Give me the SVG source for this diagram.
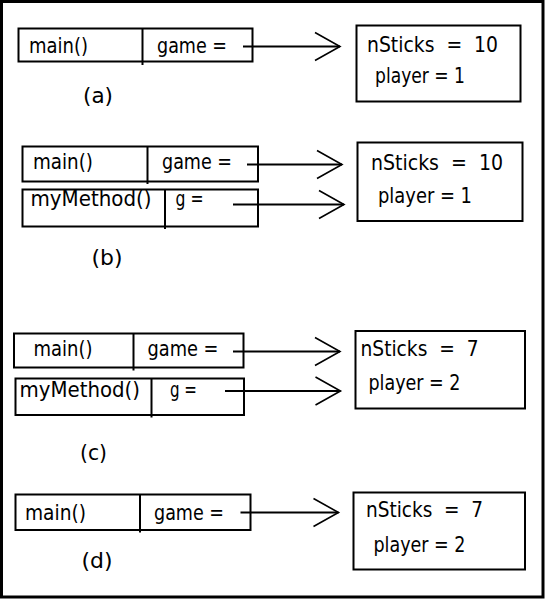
<svg xmlns="http://www.w3.org/2000/svg" width="546" height="600" viewBox="0 0 546 600">
<defs>
<style>
.box{fill:#fff;stroke:#000;stroke-width:2}
.div{stroke:#000;stroke-width:2}
.t{font-family:"DejaVu Sans Condensed","DejaVu Sans","Liberation Sans",sans-serif;font-size:22px;fill:#000;white-space:pre}
.c{stroke:#000;stroke-width:2;fill:none}
</style>
<marker id="chev" markerUnits="userSpaceOnUse" markerWidth="30" markerHeight="32" viewBox="0 0 30 32" refX="27" refY="16" orient="auto">
<path d="M2,2 L27,16 L2,30" fill="none" stroke="#000" stroke-width="1.6"/>
</marker>
</defs>
<rect x="0" y="0" width="546" height="600" fill="#fff"/>
<rect x="1.5" y="1.5" width="541.5" height="595.5" fill="none" stroke="#000" stroke-width="3"/>

<!-- (a) -->
<g id="a-main">
<rect class="box" x="18.5" y="28.5" width="234" height="33"/>
<line class="div" x1="142.5" y1="28.5" x2="142.5" y2="65"/>
<text class="t" x="29" y="53" textLength="59" lengthAdjust="spacingAndGlyphs">main()</text>
<text class="t" x="157" y="53" textLength="70" lengthAdjust="spacingAndGlyphs">game =</text>
</g>
<g id="a-obj">
<rect class="box" x="356.5" y="25.5" width="164" height="76"/>
<text class="t" xml:space="preserve" x="367" y="52" textLength="131" lengthAdjust="spacingAndGlyphs">nSticks  =  10</text>
<text class="t" x="375" y="83" textLength="90" lengthAdjust="spacingAndGlyphs">player = 1</text>
</g>
<text id="label-a" class="t" x="83" y="103" textLength="30" lengthAdjust="spacingAndGlyphs">(a)</text>

<!-- (b) -->
<g id="b-main">
<rect class="box" x="22.5" y="146.5" width="235.5" height="35"/>
<line class="div" x1="147.5" y1="146.5" x2="147.5" y2="184"/>
<text class="t" x="33" y="169" textLength="60" lengthAdjust="spacingAndGlyphs">main()</text>
<text class="t" x="162" y="169" textLength="70" lengthAdjust="spacingAndGlyphs">game =</text>
</g>
<g id="b-mymethod">
<rect class="box" x="22.5" y="189.5" width="235.5" height="37"/>
<line class="div" x1="165" y1="189.5" x2="165" y2="229"/>
<text class="t" x="30.5" y="206" textLength="121" lengthAdjust="spacingAndGlyphs">myMethod()</text>
<text class="t" x="175.5" y="206" textLength="28" lengthAdjust="spacingAndGlyphs">g =</text>
</g>
<g id="b-obj">
<rect class="box" x="357.5" y="142.5" width="165" height="78.5"/>
<text class="t" xml:space="preserve" x="371" y="169.5" textLength="132" lengthAdjust="spacingAndGlyphs">nSticks  =  10</text>
<text class="t" x="378" y="202.5" textLength="94" lengthAdjust="spacingAndGlyphs">player = 1</text>
</g>
<text id="label-b" class="t" x="91.5" y="265" textLength="31" lengthAdjust="spacingAndGlyphs">(b)</text>

<!-- (c) -->
<g id="c-main">
<rect class="box" x="14" y="333.5" width="229.5" height="34"/>
<line class="div" x1="133.5" y1="333.5" x2="133.5" y2="370.5"/>
<text class="t" x="33.5" y="356" textLength="59" lengthAdjust="spacingAndGlyphs">main()</text>
<text class="t" x="147.5" y="356" textLength="71" lengthAdjust="spacingAndGlyphs">game =</text>
</g>
<g id="c-mymethod">
<rect class="box" x="15.5" y="378.5" width="228.5" height="36.5"/>
<line class="div" x1="151.5" y1="378.5" x2="151.5" y2="417.5"/>
<text class="t" x="19.5" y="397" textLength="120.5" lengthAdjust="spacingAndGlyphs">myMethod()</text>
<text class="t" x="170" y="397" textLength="27" lengthAdjust="spacingAndGlyphs">g =</text>
</g>
<g id="c-obj">
<rect class="box" x="355.5" y="331" width="169.5" height="77.5"/>
<text class="t" xml:space="preserve" x="360.5" y="356" textLength="118" lengthAdjust="spacingAndGlyphs">nSticks  =  7</text>
<text class="t" x="368.5" y="390" textLength="92" lengthAdjust="spacingAndGlyphs">player = 2</text>
</g>
<text id="label-c" class="t" x="80" y="460" textLength="27" lengthAdjust="spacingAndGlyphs">(c)</text>

<!-- (d) -->
<g id="d-main">
<rect class="box" x="15.5" y="494.5" width="235" height="35.5"/>
<line class="div" x1="140" y1="494.5" x2="140" y2="532.5"/>
<text class="t" x="25" y="520" textLength="61" lengthAdjust="spacingAndGlyphs">main()</text>
<text class="t" x="154" y="520" textLength="70" lengthAdjust="spacingAndGlyphs">game =</text>
</g>
<g id="d-obj">
<rect class="box" x="353.5" y="492.5" width="171.5" height="77"/>
<text class="t" xml:space="preserve" x="366" y="516.5" textLength="117" lengthAdjust="spacingAndGlyphs">nSticks  =  7</text>
<text class="t" x="373.5" y="551.5" textLength="92" lengthAdjust="spacingAndGlyphs">player = 2</text>
</g>
<text id="label-d" class="t" x="81.5" y="568" textLength="31" lengthAdjust="spacingAndGlyphs">(d)</text>

<g id="connectors">
<line class="c" x1="243" y1="46.5" x2="340" y2="46.5" marker-end="url(#chev)"/>
<line class="c" x1="247" y1="164.5" x2="342" y2="164.5" marker-end="url(#chev)"/>
<line class="c" x1="233" y1="204.5" x2="344" y2="204.5" marker-end="url(#chev)"/>
<line class="c" x1="233" y1="351.5" x2="340" y2="351.5" marker-end="url(#chev)"/>
<line class="c" x1="225" y1="391" x2="340.5" y2="391" marker-end="url(#chev)"/>
<line class="c" x1="240.5" y1="512.5" x2="338.5" y2="512.5" marker-end="url(#chev)"/>
</g>
</svg>
